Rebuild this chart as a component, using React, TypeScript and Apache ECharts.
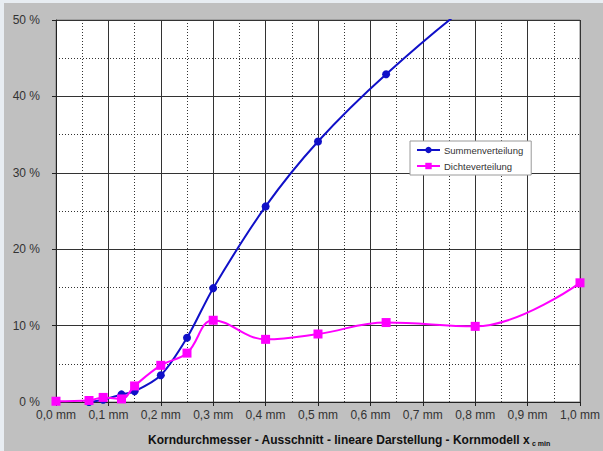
import React, { useEffect, useRef } from "react";
import * as echarts from "echarts";

const sumX = [0.063, 0.09, 0.125, 0.15, 0.2, 0.25, 0.3, 0.4, 0.5, 0.63, 0.8, 1.0];
const sumValues = [0.0, 0.3, 1.0, 1.4, 3.5, 8.4, 14.9, 25.6, 34.1, 42.9, 52.6, 61.5];
const densX = [0.0, 0.063, 0.09, 0.125, 0.15, 0.2, 0.25, 0.3, 0.4, 0.5, 0.63, 0.8, 1.0];
const densValues = [0.1, 0.2, 0.6, 0.4, 2.1, 4.8, 6.4, 10.7, 8.2, 8.9, 10.4, 9.9, 15.6];
const seriesNames = ["Summenverteilung", "Dichteverteilung"];
const xTitle = "Korndurchmesser - Ausschnitt - lineare Darstellung - Kornmodell x";
const xTitleSub = "c min";

export default function App() {
  const ref = useRef<HTMLDivElement>(null);
  useEffect(() => {
    if (!ref.current) return;
    const chart = echarts.init(ref.current, null, { renderer: "svg" });
    const font = "'Liberation Sans', Arial, sans-serif";
    chart.setOption({
      animation: false,
      backgroundColor: "#c0c0c0",
      textStyle: { fontFamily: font },
      grid: {
        left: 56,
        right: 20,
        top: 20,
        bottom: 49,
        show: true,
        backgroundColor: "#ffffff",
        borderColor: "#808080",
        borderWidth: 1,
      },
      legend: {
        left: 410,
        top: 141,
        orient: "vertical",
        itemWidth: 23,
        itemHeight: 8,
        itemGap: 6,
        padding: [4, 8, 4, 6],
        backgroundColor: "#ffffff",
        borderColor: "#9a9a9a",
        borderWidth: 1,
        borderRadius: 0,
        textStyle: { fontSize: 9.5, color: "#333333", fontFamily: font, padding: [0, 0, 0, -1] },
        data: seriesNames,
      },
      xAxis: {
        type: "value",
        min: 0,
        max: 1,
        interval: 0.1,
        axisLine: { show: true, lineStyle: { color: "#222222", width: 1 } },
        axisTick: { show: true, length: 4, lineStyle: { color: "#222222" } },
        minorTick: { show: false, splitNumber: 2 },
        splitLine: { show: true, lineStyle: { color: "#333333", width: 1, type: "solid" } },
        minorSplitLine: { show: true, lineStyle: { color: "#333333", width: 1, type: [1, 2] } },
        axisLabel: {
          margin: 7,
          fontSize: 12,
          color: "#333333",
          fontFamily: font,
          formatter: (v: number) => v.toFixed(1).replace(".", ",") + " mm",
        },
      },
      yAxis: {
        type: "value",
        min: 0,
        max: 50,
        interval: 10,
        axisLine: { show: true, lineStyle: { color: "#222222", width: 1 } },
        axisTick: { show: true, length: 4, lineStyle: { color: "#222222" } },
        minorTick: { show: false, splitNumber: 2 },
        splitLine: { show: true, lineStyle: { color: "#333333", width: 1, type: "solid" } },
        minorSplitLine: { show: true, lineStyle: { color: "#333333", width: 1, type: [1, 2] } },
        axisLabel: {
          margin: 16,
          fontSize: 12,
          color: "#333333",
          fontFamily: font,
          formatter: "{value} %",
        },
      },
      graphic: [
        { type: "rect", left: 0, top: 0, shape: { width: 4, height: 451 }, style: { fill: "#e8edf2" }, silent: true },
        { type: "rect", left: 0, top: 0, shape: { width: 603, height: 3 }, style: { fill: "#e8edf2" }, silent: true },
        {
          type: "text",
          x: 148,
          y: 440,
          style: {
            text: "{b|" + xTitle + "}{s|" + " " + xTitleSub + "}",
            verticalAlign: "middle",
            rich: {
              b: { fontSize: 12, fontWeight: "bold", fill: "#111111", fontFamily: font },
              s: { fontSize: 7, fontWeight: "bold", fill: "#111111", fontFamily: font, padding: [6, 0, 0, 0] },
            },
          },
        },
      ],
      series: [
        {
          name: seriesNames[0],
          type: "line",
          data: sumX.map((x, i) => [x, sumValues[i]]),
          smooth: 0.3,
          symbol: "circle",
          symbolSize: 8,
          color: "#1010c8",
          lineStyle: { width: 2, color: "#1010c8" },
          itemStyle: { color: "#1010c8" },
          clip: true,
          z: 3,
        },
        {
          name: seriesNames[1],
          type: "line",
          data: densX.map((x, i) => [x, densValues[i]]),
          smooth: 0.4,
          symbol: "rect",
          symbolSize: 9,
          color: "#ff00ff",
          lineStyle: { width: 2, color: "#ff00ff" },
          itemStyle: { color: "#ff00ff" },
          clip: true,
          z: 4,
        },
      ],
    });
    return () => chart.dispose();
  }, []);
  return (
    <div style={{ position: "fixed", left: 0, top: 0, width: 603, height: 451 }}>
      <div ref={ref} style={{ width: 603, height: 451 }} />
    </div>
  );
}
